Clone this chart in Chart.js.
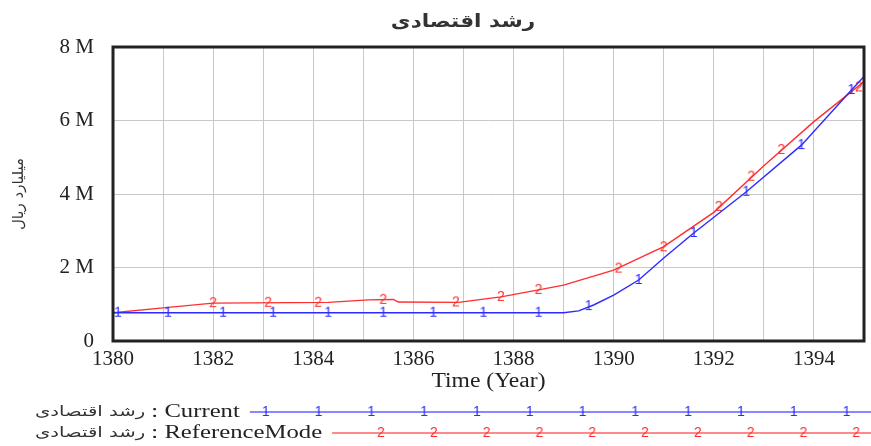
<!DOCTYPE html>
<html>
<head>
<meta charset="utf-8">
<script src="https://cdn.jsdelivr.net/npm/chart.js@4.4.1/dist/chart.umd.min.js"></script>
<style>
  html, body { margin: 0; padding: 0; background: #fff; }
  #wrap { width: 871px; height: 446px; position: relative; }
</style>
</head>
<body>
<div id="wrap"><canvas id="chart"></canvas></div>
<script>
// Data (values in rials, years on x)
const chartTitle = 'رشد اقتصادی';
const yAxisTitle = 'میلیارد ریال';
const xAxisTitle = 'Time (Year)';
const yTicks = [0, 2e6, 4e6, 6e6, 8e6];

const currentLabel = 'رشد اقتصادی : Current';
const currentYears  = [1380, 1389, 1389.3, 1389.6, 1390, 1390.5, 1391, 1391.6, 1392.65, 1393.75, 1394.75, 1395];
const currentValues = [0.77e6, 0.77e6, 0.82e6, 0.98e6, 1.25e6, 1.66e6, 2.26e6, 2.94e6, 4.06e6, 5.33e6, 6.83e6, 7.2e6];
const currentMarkYears  = [1380.1, 1381.1, 1382.2, 1383.2, 1384.3, 1385.4, 1386.4, 1387.4, 1388.5, 1389.5, 1390.5, 1391.6, 1392.65, 1393.75, 1394.75];
const currentMarkValues = [0.77e6, 0.77e6, 0.77e6, 0.77e6, 0.77e6, 0.77e6, 0.77e6, 0.77e6, 0.77e6, 0.95e6, 1.66e6, 2.94e6, 4.06e6, 5.33e6, 6.83e6];

const refLabel = 'رشد اقتصادی : ReferenceMode';
const refYears  = [1380, 1381, 1382, 1384.3, 1385.1, 1385.6, 1385.7, 1386.9, 1387.75, 1388.5, 1389, 1390, 1391, 1392, 1393, 1394, 1395];
const refValues = [0.77e6, 0.9e6, 1.03e6, 1.05e6, 1.12e6, 1.13e6, 1.06e6, 1.05e6, 1.2e6, 1.39e6, 1.52e6, 1.93e6, 2.57e6, 3.5e6, 4.77e6, 5.97e6, 7.06e6];
const refMarkYears  = [1382.0, 1383.1, 1384.1, 1385.4, 1386.85, 1387.75, 1388.5, 1390.1, 1391.0, 1392.1, 1392.75, 1393.35, 1394.9];
const refMarkValues = [1.03e6, 1.04e6, 1.04e6, 1.12e6, 1.05e6, 1.2e6, 1.39e6, 1.97e6, 2.55e6, 3.65e6, 4.47e6, 5.2e6, 6.9e6];

const BLUE = '#2b2bff';
const RED = '#ff2e2e';

function pts(xs, ys){ return xs.map((x,i)=>({x, y: ys[i]})); }

// little "1" / "2" glyphs, like the simulation tool draws on its lines
function glyph(ch, color){
  const c = document.createElement('canvas');
  c.width = 10; c.height = 16;
  const g = c.getContext('2d');
  g.fillStyle = color;
  g.font = '14px "Liberation Sans"';
  g.textAlign = 'center';
  g.textBaseline = 'middle';
  g.fillText(ch, 5, 8.5);
  return c;
}
const glyph1 = glyph('1', BLUE);
const glyph2 = glyph('2', RED);

// text stretched sideways (the original is a stretched screenshot)
function wideText(ctx, text, x, y, sx, align){
  ctx.save();
  ctx.translate(x, y);
  ctx.scale(sx, 1);
  ctx.textAlign = align || 'left';
  ctx.fillText(text, 0, 0);
  ctx.restore();
  return ctx.measureText(text).width * sx;
}

const decor = {
  id: 'decor',
  afterDatasetsDraw(chart){
    const {ctx, chartArea: a} = chart;
    ctx.save();
    ctx.strokeStyle = '#222';
    ctx.lineWidth = 3;
    ctx.strokeRect(a.left, a.top, a.right - a.left, a.bottom - a.top);
    ctx.restore();
  },
  afterDraw(chart){
    const {ctx, chartArea: a} = chart;
    ctx.save();
    ctx.textBaseline = 'middle';
    // title
    ctx.fillStyle = '#333';
    ctx.font = 'bold 18px "DejaVu Sans"';
    wideText(ctx, chartTitle, 463, 22, 1.2, 'center');
    // x axis title
    ctx.fillStyle = '#222';
    ctx.font = '20px "Liberation Serif"';
    wideText(ctx, xAxisTitle, (a.left + a.right) / 2, 382, 1.18, 'center');

    // legend rows
    const rows = [
      {label: currentLabel, color: BLUE, g: glyph1, y: 412, first: 16},
      {label: refLabel, color: RED, g: glyph2, y: 433, first: 49}
    ];
    rows.forEach(r => {
      const parts = r.label.split(' : ');
      let x = 35;
      ctx.fillStyle = '#333';
      ctx.font = '14px "DejaVu Sans"';
      x += wideText(ctx, parts[0], x, r.y, 1.4, 'left');
      ctx.fillStyle = '#222';
      ctx.font = '19px "Liberation Serif"';
      x += wideText(ctx, ' : ' + parts[1], x, r.y, 1.3, 'left') + 10;
      ctx.strokeStyle = r.color;
      ctx.globalAlpha = 0.75;
      ctx.lineWidth = 1.6;
      ctx.beginPath();
      ctx.moveTo(x, r.y);
      ctx.lineTo(871, r.y);
      ctx.stroke();
      ctx.globalAlpha = 1;
      for (let gx = x + r.first; gx < 871; gx += 52.8) {
        ctx.drawImage(r.g, gx - 5, r.y - 8);
      }
    });
    ctx.restore();
  }
};

new Chart(document.getElementById('chart'), {
  type: 'line',
  data: {
    datasets: [
      { label: currentLabel, data: pts(currentYears, currentValues), borderColor: BLUE, borderWidth: 1.4, pointRadius: 0, tension: 0 },
      { label: currentLabel, data: pts(currentMarkYears, currentMarkValues), showLine: false, pointStyle: glyph1, pointRadius: 6 },
      { label: refLabel, data: pts(refYears, refValues), borderColor: RED, borderWidth: 1.4, pointRadius: 0, tension: 0 },
      { label: refLabel, data: pts(refMarkYears, refMarkValues), showLine: false, pointStyle: glyph2, pointRadius: 6 }
    ]
  },
  options: {
    responsive: true,
    maintainAspectRatio: false,
    animation: false,
    layout: { padding: { top: 47, right: 6, left: 0, bottom: 0 } },
    plugins: { legend: { display: false }, tooltip: { enabled: false }, title: { display: false } },
    scales: {
      x: {
        type: 'linear', min: 1380, max: 1395,
        afterFit: s => { s.height = 105; },
        border: { display: false },
        grid: { color: '#c8c8c8', lineWidth: 1, drawTicks: false },
        ticks: {
          stepSize: 1, autoSkip: false, maxRotation: 0, padding: 6,
          color: '#222', font: { family: 'Liberation Serif', size: 21 },
          callback: v => (v % 2 === 0 && v < 1395) ? String(v) : ''
        }
      },
      y: {
        min: 0, max: 8e6,
        afterFit: s => { s.width = 113; },
        afterBuildTicks: s => { s.ticks = yTicks.map(v => ({value: v})); },
        border: { display: false },
        grid: { color: '#c8c8c8', lineWidth: 1, drawTicks: false },
        ticks: {
          padding: 19, color: '#222', font: { family: 'Liberation Serif', size: 21 },
          callback: v => v === 0 ? '0' : (v / 1e6) + ' M'
        },
        title: {
          display: true, text: yAxisTitle, color: '#333',
          font: { family: 'DejaVu Sans', size: 15 }, padding: { top: 10, bottom: 0 }
        }
      }
    }
  },
  plugins: [decor]
});
</script>
</body>
</html>
